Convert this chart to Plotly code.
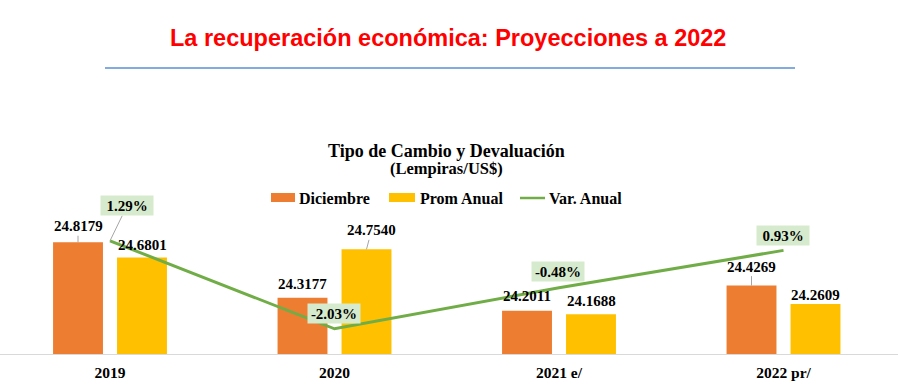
import plotly.graph_objects as go

categories = ["2019", "2020", "2021 e/", "2022 pr/"]
diciembre = [24.8179, 24.3177, 24.2011, 24.4269]
prom_anual = [24.6801, 24.7540, 24.1688, 24.2609]
var_anual = [1.29, -2.03, -0.48, 0.93]

title_text = "La recuperación económica: Proyecciones a 2022"
chart_title = "Tipo de Cambio y Devaluación"
chart_subtitle = "(Lempiras/US$)"
series_names = ["Diciembre", "Prom Anual", "Var. Anual"]

ORANGE = "#ED7D31"
YELLOW = "#FFC000"
GREEN = "#70AD47"
SERIF = "Liberation Serif, Times New Roman, serif"
SANS = "Liberation Sans, Arial, sans-serif"

W, H = 900, 387
ML, MR, MT, MB = 0, 2, 130, 33
PW = W - ML - MR
PH = H - MT - MB


def px(x):
    return (x - ML) / PW


def py(y):
    return (H - MB - y) / PH


fig = go.Figure()
fig.add_trace(go.Bar(x=categories, y=diciembre, name=series_names[0],
                     marker=dict(color=ORANGE, line=dict(width=0))))
fig.add_trace(go.Bar(x=categories, y=prom_anual, name=series_names[1],
                     marker=dict(color=YELLOW, line=dict(width=0))))
fig.add_trace(go.Scatter(x=categories, y=var_anual, name=series_names[2], yaxis="y2",
                         mode="lines", line=dict(color=GREEN, width=3)))

ann = []
shapes = []

# bar value labels (pixel offsets are styling)
dic_off = [(0, 16, True), (0, 14, False), (0, 15, False), (0, 19, True)]
prom_off = [(0, 13, False), (5, 19, True), (0, 13, False), (0, 9, False)]
for series, offs, shift in ((diciembre, dic_off, -32), (prom_anual, prom_off, 32)):
    for i, (v, (dx, l, ld)) in enumerate(zip(series, offs)):
        a = dict(x=i, y=v, xref="x", yref="y", xshift=shift,
                 text="<b>%.4f</b>" % v,
                 font=dict(family=SERIF, size=15, color="#000"))
        if ld:
            a.update(showarrow=True, arrowhead=0, arrowwidth=1, arrowcolor="#a6a6a6",
                     ax=dx, ay=-l, standoff=0)
        else:
            a.update(showarrow=False, yshift=l, xanchor="center", yanchor="middle")
        ann.append(a)

# percentage labels
pct_off = [(17, -35, True), (-1, -15, False), (-1, -16, False), (-1, -15, False)]
for i, (v, (dx, dy, ld)) in enumerate(zip(var_anual, pct_off)):
    a = dict(x=i, y=v, xref="x", yref="y2", text="<b>%.2f%%</b>" % v,
             font=dict(family=SERIF, size=15, color="#000"),
             bgcolor="#d6ebcd", borderpad=1, width=50, height=17)
    if ld:
        a.update(showarrow=True, arrowhead=0, arrowwidth=1, arrowcolor="#a6a6a6",
                 ax=dx, ay=dy, standoff=0)
    else:
        a.update(showarrow=False, xshift=dx, yshift=-dy, xanchor="center", yanchor="middle")
    ann.append(a)

# page title
ann.append(dict(x=px(448), y=py(38), xref="paper", yref="paper", showarrow=False,
                text="<b>%s</b>" % title_text, xanchor="center", yanchor="middle",
                font=dict(family=SANS, size=23.5, color="#ff0000")))
shapes.append(dict(type="line", xref="paper", yref="paper", x0=px(105), x1=px(795),
                   y0=py(68), y1=py(68), line=dict(color="#5b8fd6", width=1.5)))

# chart title + subtitle as one two-line text
ann.append(dict(x=px(446), y=py(159), xref="paper", yref="paper", showarrow=False,
                text="<span style='font-size:18px'><b>%s</b></span><br>"
                     "<span style='font-size:16.5px'><b>%s</b></span>" % (chart_title, chart_subtitle),
                xanchor="center", yanchor="middle", align="center",
                font=dict(family=SERIF, size=13, color="#000")))

# legend
leg_y = 198
shapes.append(dict(type="rect", xref="paper", yref="paper", x0=px(271), x1=px(295),
                   y0=py(202), y1=py(193), fillcolor=ORANGE, line=dict(width=0)))
shapes.append(dict(type="rect", xref="paper", yref="paper", x0=px(389), x1=px(415),
                   y0=py(202), y1=py(193), fillcolor=YELLOW, line=dict(width=0)))
shapes.append(dict(type="line", xref="paper", yref="paper", x0=px(520), x1=px(545),
                   y0=py(198), y1=py(198), line=dict(color=GREEN, width=2.5)))
for xx, name in zip((297, 418, 547), series_names):
    ann.append(dict(x=px(xx), y=py(leg_y), xref="paper", yref="paper", showarrow=False,
                    text="<b>%s</b>" % name, xanchor="left", yanchor="middle",
                    font=dict(family=SERIF, size=16, color="#000")))

fig.update_layout(
    width=W, height=H,
    margin=dict(l=ML, r=MR, t=MT, b=MB, pad=0),
    paper_bgcolor="white", plot_bgcolor="white",
    barmode="group", bargap=0.43, bargroupgap=0.22,
    showlegend=False,
    xaxis=dict(type="category", range=[-0.49, 3.51], showgrid=False, zeroline=False,
               showline=True, linecolor="#d9d9d9", linewidth=1, ticks="",
               tickfont=dict(family=SERIF, size=15.5, color="#000", weight="bold"),
               ticklabelstandoff=4),
    yaxis=dict(range=[23.81, 25.83], visible=False, showgrid=False, zeroline=False),
    yaxis2=dict(range=[-2.981, 5.472], overlaying="y", visible=False,
                showgrid=False, zeroline=False),
    annotations=ann, shapes=shapes,
)

fig.write_html("out.html", config={"displayModeBar": False},
               post_script="document.body.style.margin='0';document.body.style.overflow='hidden';")
